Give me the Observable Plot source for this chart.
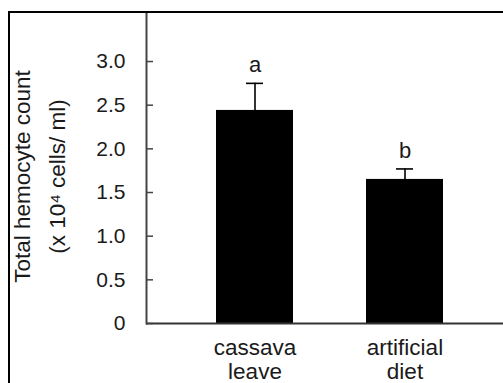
<!DOCTYPE html>
<html>
<head>
<meta charset="utf-8">
<script src="https://cdn.jsdelivr.net/npm/d3@7"></script>
<script src="https://cdn.jsdelivr.net/npm/@observablehq/plot@0.6"></script>
<style>
  html, body { margin: 0; padding: 0; background: #fff; }
  #wrap { position: relative; width: 503px; height: 383px; overflow: hidden; }
  #border { position: absolute; left: 8px; top: 11px; right: -4px; bottom: -4px;
            border-top: 2px solid #000; border-left: 2px solid #000; pointer-events: none; }
  svg { display: block; }
</style>
</head>
<body>
<div id="wrap"><div id="chart"></div><div id="border"></div></div>
<script>
const categories = ["cassava\nleave", "artificial\ndiet"];
const means = [2.44, 1.65];
const errors = [0.31, 0.12];
const letters = ["a", "b"];
const yTicks = [0, 0.5, 1.0, 1.5, 2.0, 2.5, 3.0];
const yTickLabels = ["0", "0.5", "1.0", "1.5", "2.0", "2.5", "3.0"];
const yLabelLine1 = "Total hemocyte count";
const yLabelLine2 = "(x 10\u2074 cells/ ml)";

const data = categories.map((c, i) => ({cat: c, mean: means[i], err: errors[i], top: means[i] + errors[i], letter: letters[i]}));

const W = 503, H = 383, ML = 146, MR = 0, MT = 13, MB = 60;
const FONT = "Liberation Sans, Arial, sans-serif";
const FS = 21;
const FL = 22.5;

const chart = Plot.plot({
  width: W, height: H,
  marginLeft: ML, marginRight: MR, marginTop: MT, marginBottom: MB,
  style: {fontFamily: FONT, fontSize: FS + "px", color: "#1a1a1a", background: "#fff"},
  x: {domain: categories, range: [140.5, 517.5], paddingInner: 0.487, paddingOuter: 0.5, axis: null},
  y: {domain: [0, 3.55], axis: null},
  marks: [
    Plot.barY(data, {x: "cat", y: "mean", fill: "#000"}),
    Plot.ruleX(data, {x: "cat", y1: "mean", y2: "top", stroke: "#000", strokeWidth: 1.6}),
    Plot.tickY(data, {x: "cat", y: "top", stroke: "#000", strokeWidth: 1.6, inset: 30}),
    Plot.text(data, {x: "cat", y: "top", text: "letter", dy: -11, lineAnchor: "bottom", fill: "#1a1a1a", fontSize: 22}),
    Plot.ruleY([0], {stroke: "#333", strokeWidth: 2}),
    Plot.frame({anchor: "left", stroke: "#444", strokeWidth: 2}),
    Plot.tickY(yTicks, {y: d => d, insetRight: (W - ML - MR) - 7, stroke: "#444", strokeWidth: 1.5}),
    Plot.axisY(yTicks, {tickSize: 0, tickPadding: 21, tickFormat: (d) => yTickLabels[yTicks.indexOf(d)], fontSize: FS, fill: "#1a1a1a", label: null}),
    Plot.axisX({tickSize: 0, tickPadding: 14, fontSize: FL, lineHeight: 1.08, fill: "#1a1a1a", label: null}),
    Plot.text([yLabelLine1], {text: d => d, frameAnchor: "left", textAnchor: "middle", rotate: -90, dx: -124, dy: 8, fontSize: FL, fill: "#1a1a1a"}),
    Plot.text([yLabelLine2], {text: d => d, frameAnchor: "left", textAnchor: "middle", rotate: -90, dx: -89, dy: 8, fontSize: FL, fill: "#1a1a1a"})
  ]
});
document.getElementById("chart").appendChild(chart);
</script>
</body>
</html>
